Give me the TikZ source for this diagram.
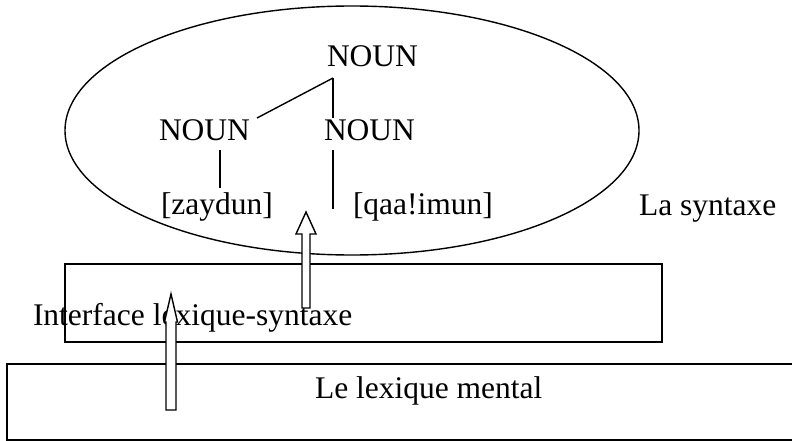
\documentclass[tikz,border=0pt]{standalone}
\usepackage{fontspec}
\setmainfont{Liberation Serif}
\usetikzlibrary{shapes.geometric}

% hollow upward block arrow: #1 = x, #2 = base y, #3 = tip y,
% #4 = shaft half width, #5 = head half width, #6 = y of head base
\newcommand\blockup[6]{%
  \draw[blockarrow] (#1-#4,#2) -- (#1+#4,#2) -- (#1+#4,#6) -- (#1+#5,#6)
    -- (#1,#3) -- (#1-#5,#6) -- (#1-#4,#6) -- cycle;}

\begin{document}
\begin{tikzpicture}[x=1pt,y=-1pt,
  every node/.style={inner sep=0pt,outer sep=0pt},
  lbl/.style={anchor=base west,font=\fontsize{31.5}{36}\selectfont},
  frame/.style={draw,line width=1.4pt,rectangle},
  branch/.style={line width=1.4pt},
  blockarrow/.style={draw,fill=white,line width=1.4pt,line join=miter}]
\useasboundingbox (0,0) rectangle (792,441);

% the syntax level
\node[draw,ellipse,line width=1.4pt,minimum width=574pt,minimum height=249pt]
  (syn) at (352,130.5) {};
\node[lbl] (syntaxe) at (639,215) {La syntaxe};

% tree
\node[lbl] (top) at (327,67) {NOUN};
\node[lbl] (nl) at (159,140) {NOUN};
\node[lbl] (nr) at (324,140) {NOUN};
\node[lbl] (zaydun) at (161,214) {[zaydun]};
\node[lbl] (qaaimun) at (353,214) {[qaa!imun]};

\coordinate (j) at (333,78);
\coordinate (jl) at (257,118);
\coordinate (jr) at (333,118);
\coordinate (al) at (220,150);
\coordinate (bl) at (220,188);
\coordinate (ar) at (333,150);
\coordinate (br) at (333,209);
\draw[branch] (j) -- (jl);
\draw[branch] (j) -- (jr);
\draw[branch] (al) -- (bl);
\draw[branch] (ar) -- (br);

% interface and lexicon
\node[frame,minimum width=597pt,minimum height=78pt] (iface) at (363.5,303) {};
\node[lbl] (ifacetxt) at (33,325) {Interface lexique-syntaxe};
\node[frame,minimum width=787pt,minimum height=76pt] (lex) at (400.5,402) {};
\node[lbl] (lextxt) at (315,398) {Le lexique mental};

% arrows between the levels
\blockup{171}{410}{294}{5}{6.5}{322}
\blockup{306}{308}{212}{4}{10}{234}
\end{tikzpicture}
\end{document}
